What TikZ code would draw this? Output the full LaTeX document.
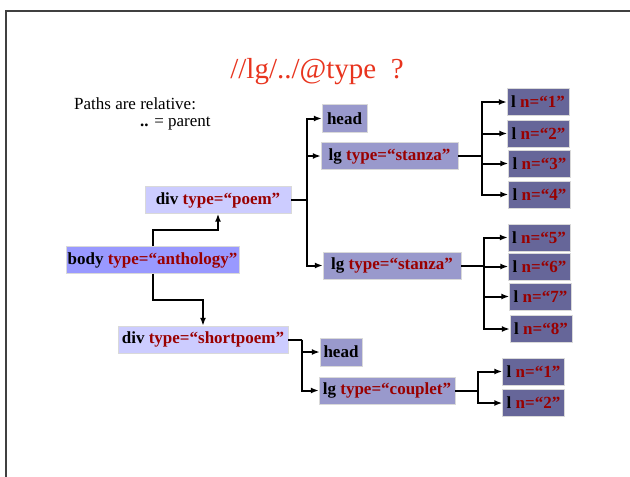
\documentclass[tikz,border=0pt]{standalone}
\usepackage{fontspec}
\setmainfont{Liberation Serif}
\usepackage{xcolor}
\usepackage{tikz}
\usetikzlibrary{arrows.meta,positioning,calc}
\definecolor{TeiTitle}{HTML}{E8341E}
\definecolor{TeiAttr}{HTML}{990000}
\definecolor{TeiPale}{HTML}{CCCCFF}
\definecolor{TeiBody}{HTML}{9999FF}
\definecolor{TeiMid}{HTML}{9999CC}
\definecolor{TeiDark}{HTML}{666699}
\newcommand{\att}[1]{\textcolor{TeiAttr}{#1}}
\begin{document}
\begin{tikzpicture}[x=1pt,y=-1pt,>={Latex[length=8pt,width=6pt]},
  elbox/.style={font=\fontsize{17}{20}\selectfont\bfseries,inner sep=0pt,minimum height=27pt,draw=white!85!black,line width=0.4pt},
  palebox/.style={elbox,fill=TeiPale},
  bodybox/.style={elbox,fill=TeiBody},
  midbox/.style={elbox,fill=TeiMid},
  linebox/.style={elbox,fill=TeiDark,minimum width=62pt},
  wire/.style={line width=2pt,draw=black}]
\useasboundingbox (0,0) rectangle (630,477);
\draw[line width=1.3pt,draw=black!75] (6,477)--(6,11)--(630,11);
\node[text=TeiTitle,font=\fontsize{29}{32}\selectfont] (title) at (317,72) {//lg/../@type\ \ ?};
\node[anchor=west,font=\fontsize{17}{20}\selectfont,inner sep=0pt] (note1) at (74,104) {Paths are relative:};
\node[anchor=west,font=\fontsize{17}{20}\selectfont,inner sep=0pt] (note2) at (140,124) {\textbf{..} = parent};
\node[bodybox,minimum width=173pt] (body) at (152.5,260) {body \att{type=“anthology”}};
\node[palebox,minimum width=146pt] (poem) at (218,200) {div \att{type=“poem”}};
\node[palebox,minimum width=170pt] (short) at (203,339.5) {div \att{type=“shortpoem”}};
\node[midbox,minimum width=45pt,minimum height=28pt] (head1) at (344.5,118.5) {head};
\node[midbox,minimum width=137pt] (stanza1) at (389.5,156) {lg \att{type=“stanza”}};
\node[midbox,minimum width=138pt] (stanza2) at (392,265.5) {lg \att{type=“stanza”}};
\node[midbox,minimum width=42pt,minimum height=28pt] (head2) at (341,352) {head};
\node[midbox,minimum width=136pt] (couplet) at (387,390.5) {lg \att{type=“couplet”}};
\foreach \n/\x/\y in {1/538/102,2/538.5/133.5,3/539.5/163.5,4/539.5/194.5,5/539/237.5,6/539.5/266.5,7/540.5/296.5,8/541/329}
  \node[linebox] (l\n) at (\x,\y) {l \att{n=“\n”}};
\node[linebox] (c1) at (533.5,371.5) {l \att{n=“1”}};
\node[linebox] (c2) at (533.5,403) {l \att{n=“2”}};
\coordinate (poembus) at (307,200);
\coordinate (shortbus) at (302,339.5);
\coordinate (st1bus) at (482,156);
\coordinate (st2bus) at (484,265.5);
\coordinate (cpbus) at (478,390.5);
\draw[wire,->] (body.north) -- ++(0,-16) -| (poem.south);
\draw[wire,->] (body.south) -- ++(0,26) -| (short.north);
\draw[wire] (poem.east) -- (poembus);
\draw[wire,->] (poembus) |- (head1.west);
\draw[wire,->] (poembus) |- (stanza1.west);
\draw[wire,->] (poembus) |- (stanza2.west);
\draw[wire] (short.east) -- (shortbus);
\draw[wire,->] (shortbus) |- (head2.west);
\draw[wire,->] (shortbus) |- (couplet.west);
\draw[wire] (stanza1.east) -- (st1bus);
\foreach \n in {1,...,4} \draw[wire,->] (st1bus) |- (l\n.west);
\draw[wire] (stanza2.east) -- (st2bus);
\foreach \n in {5,...,8} \draw[wire,->] (st2bus) |- (l\n.west);
\draw[wire] (couplet.east) -- (cpbus);
\draw[wire,->] (cpbus) |- (c1.west);
\draw[wire,->] (cpbus) |- (c2.west);
\end{tikzpicture}
\end{document}
